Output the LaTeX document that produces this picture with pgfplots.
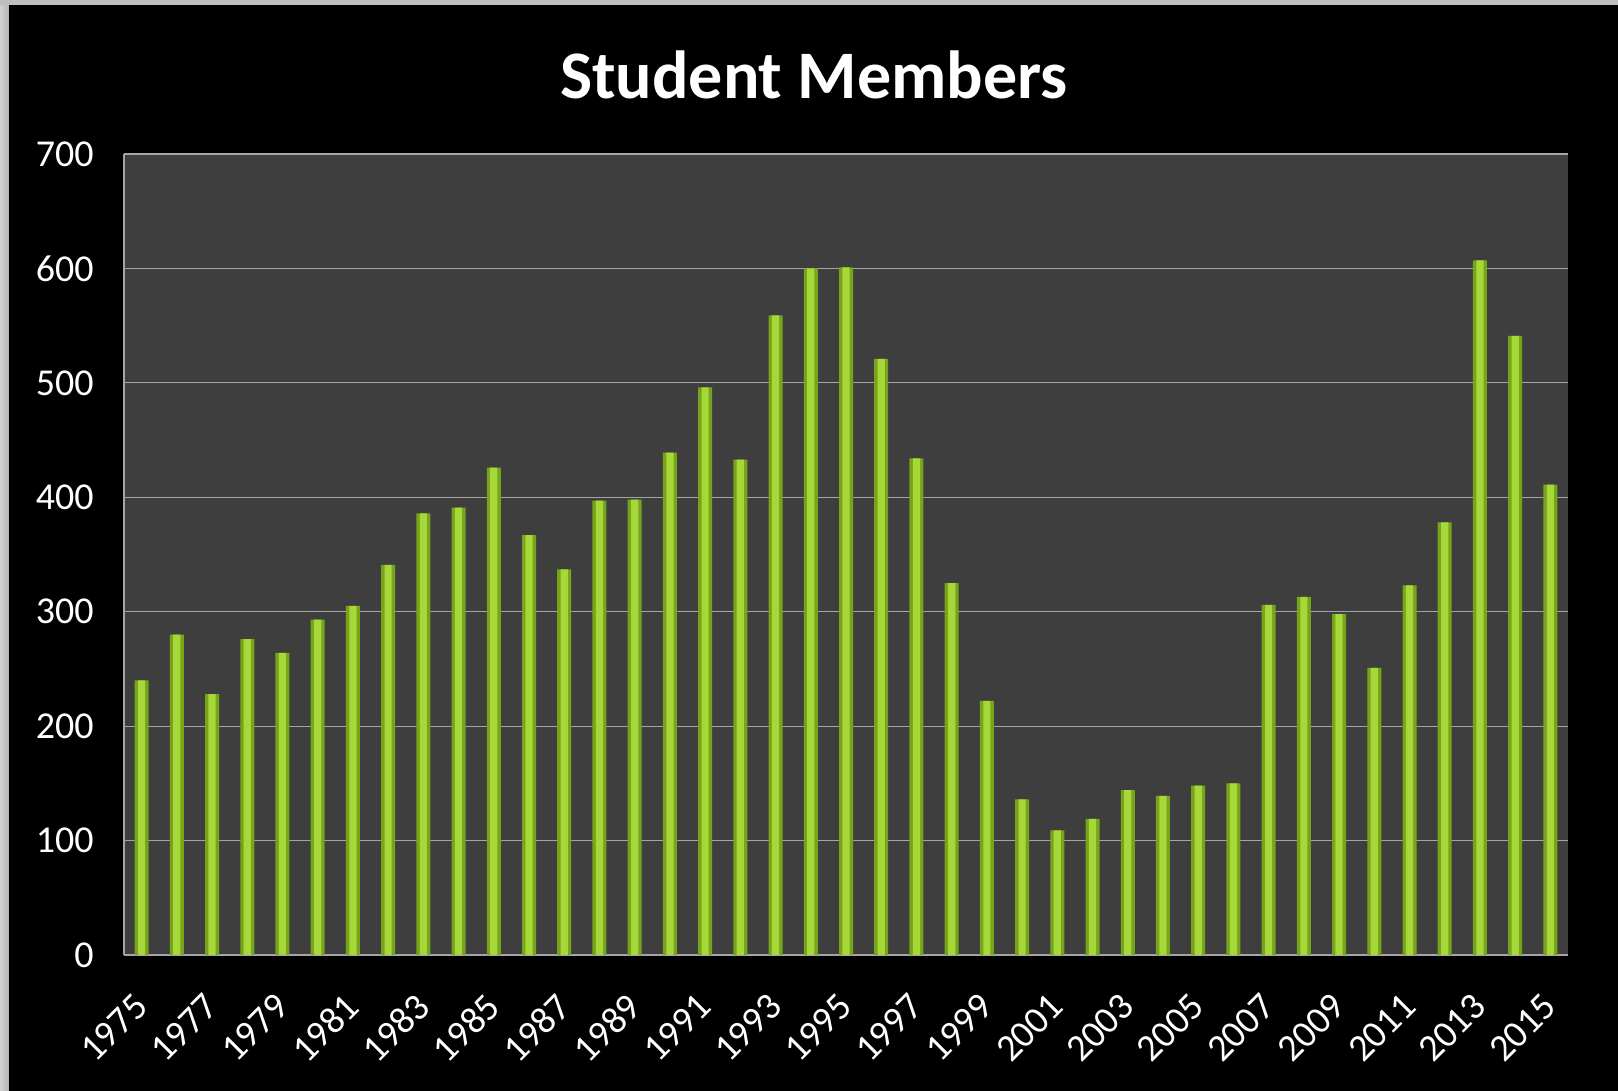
\documentclass[border=0pt]{standalone}
\usepackage{fontspec}
\setmainfont{Carlito}
\usepackage{pgfplots}
\pgfplotsset{compat=1.18}
\definecolor{plotbg}{RGB}{62,62,62}
\definecolor{gridc}{RGB}{165,165,165}
\definecolor{barmid}{RGB}{168,215,58}
\definecolor{baredge}{RGB}{118,165,28}
\pgfplotstableread{
year members
1975 240
1976 280
1977 228
1978 276
1979 264
1980 293
1981 305
1982 341
1983 386
1984 391
1985 426
1986 367
1987 337
1988 397
1989 398
1990 439
1991 496
1992 433
1993 559
1994 600
1995 601
1996 521
1997 434
1998 325
1999 222
2000 136
2001 109
2002 119
2003 144
2004 139
2005 148
2006 150
2007 306
2008 313
2009 298
2010 251
2011 323
2012 378
2013 607
2014 541
2015 411
}\datatable
\begin{document}
\begin{tikzpicture}
\fill[black] (-62pt,-68pt) rectangle (747pt,477.5pt);
\fill[left color=black!18, right color=black!30] (-62pt,-68pt) rectangle (-57.5pt,477.5pt);
\fill[black!25] (-62pt,475pt) rectangle (747pt,477.5pt);
\begin{axis}[
  scale only axis,
  width=722pt, height=400.5pt,
  xmin=1974.5, xmax=2015.5,
  ymin=0, ymax=700,
  ytick={0,100,...,700},
  xtick={1975,1977,...,2015},
  /pgf/number format/1000 sep={},
  /pgf/number format/assume math mode=true,
  axis background/.style={fill=plotbg},
  axis x line*=bottom, axis y line*=left,
  axis line style={gridc, line width=0.6pt},
  ymajorgrids, major grid style={gridc, line width=0.6pt},
  major tick length=0pt,
  tick label style={font=\fontsize{19pt}{22pt}\selectfont, text=white},
  yticklabel style={anchor=east, inner sep=0pt, xshift=-15pt},
  xticklabel style={rotate=45, anchor=east, inner sep=0pt, yshift=-16pt, xshift=-16.1pt},
  ybar, bar shift=0pt,
  clip=false,
]
\addplot[draw=none, fill=baredge, bar width=7pt] table[x=year, y=members] {\datatable};
\addplot[draw=none, fill=barmid, bar width=3.6pt] table[x=year, y=members] {\datatable};
\end{axis}
\node[text=white, font=\fontsize{34pt}{40pt}\selectfont\bfseries] at (345pt,440pt) {Student Members};
\end{tikzpicture}
\end{document}
